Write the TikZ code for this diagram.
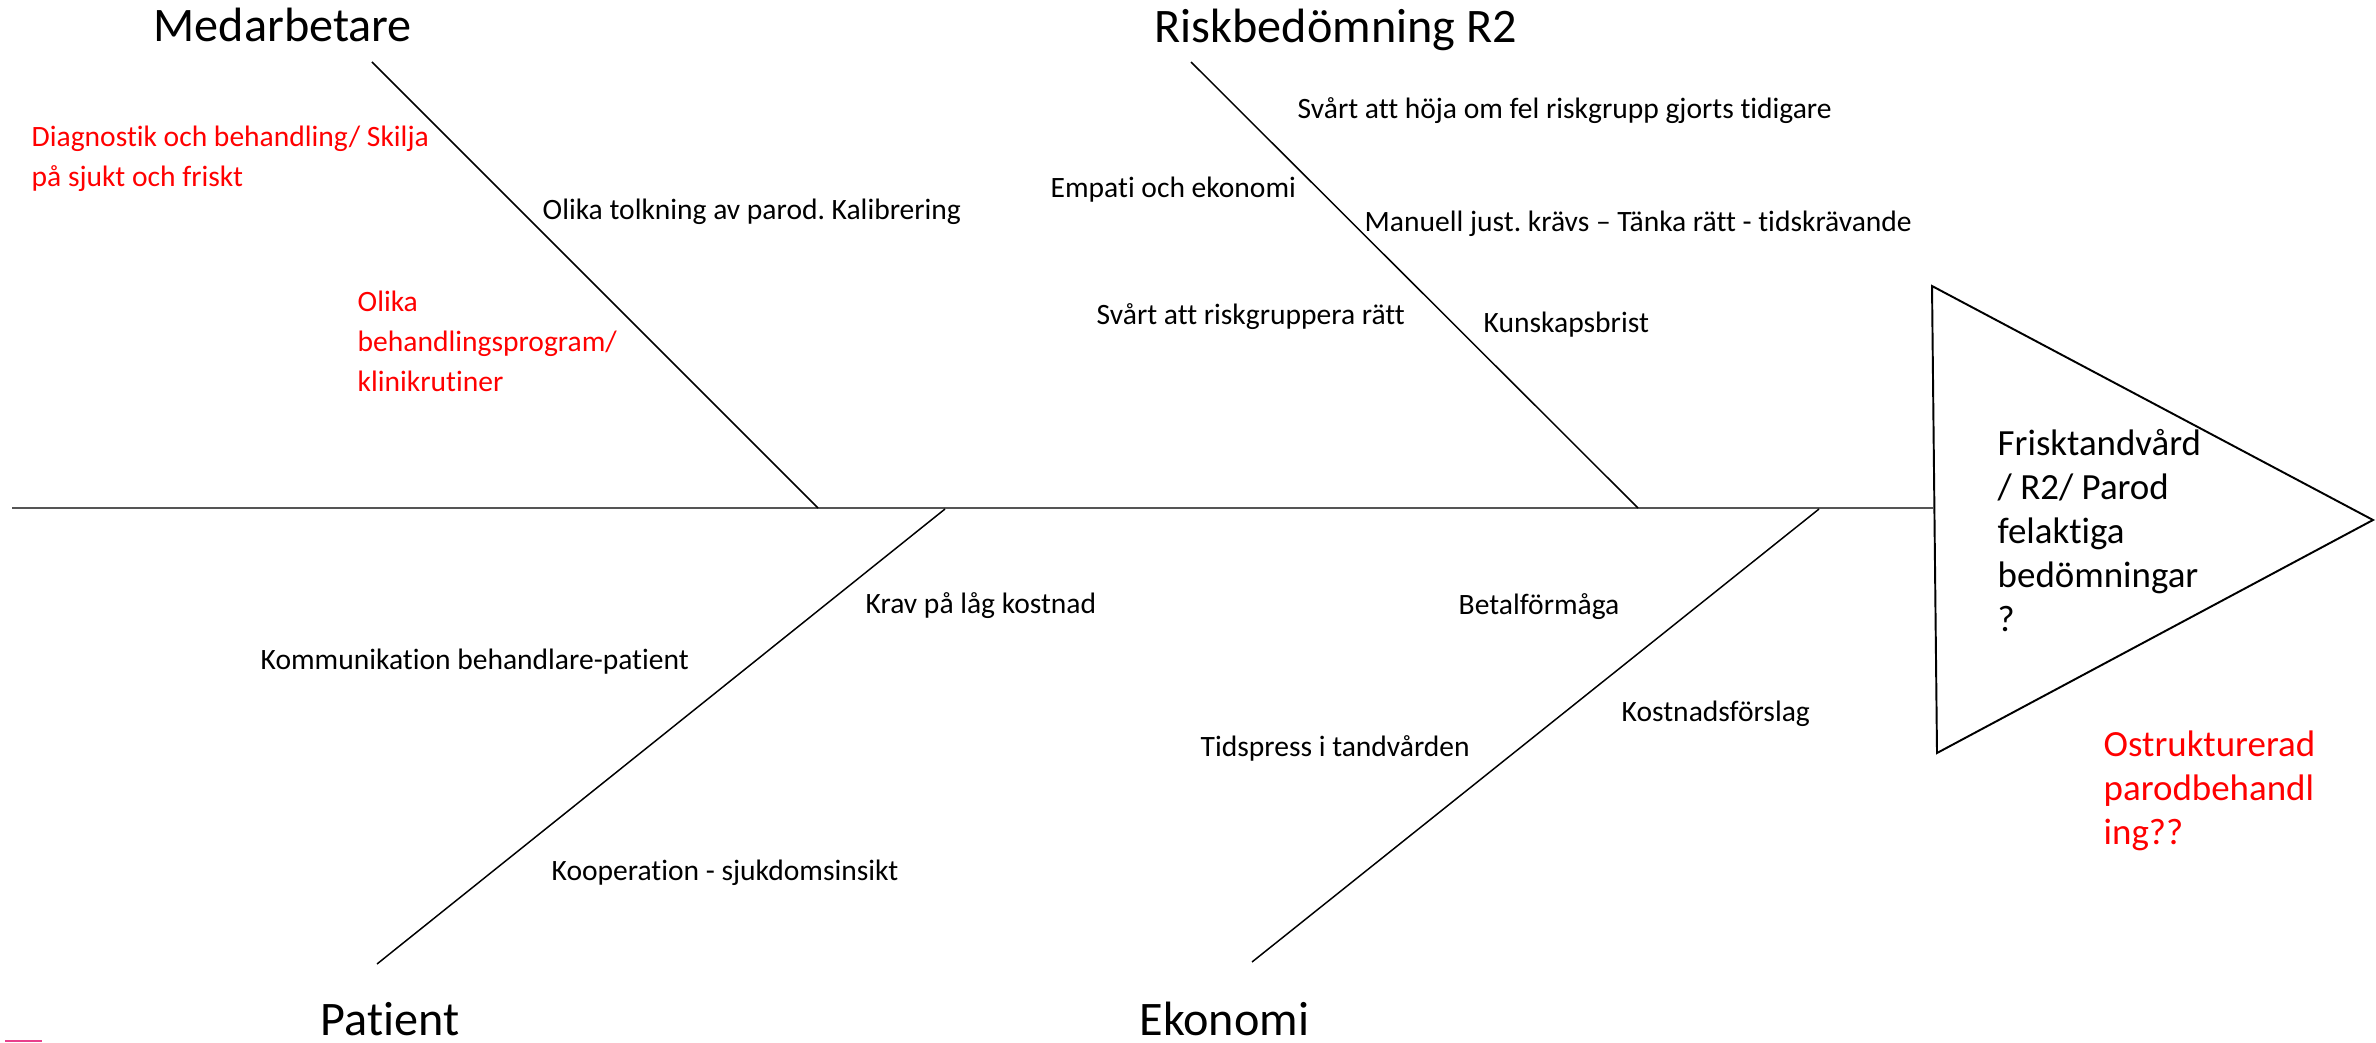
\documentclass[tikz,border=0pt]{standalone}
\usepackage{fontspec}
\setmainfont{Carlito}[Ligatures=NoCommon]
\frenchspacing
\usetikzlibrary{positioning}
\definecolor{spinegray}{HTML}{555555}
\definecolor{markpink}{HTML}{E8408C}
\tikzset{
	% Define line styles
	spine/.style={
		draw=spinegray,
		line width=0.65pt
	},
	bone/.style={
		draw=black,
		line width=0.42pt
	},
	head/.style={
		draw=black,
		line width=0.55pt,
		line join=miter
	},
	% Define text styles
	cause/.style={
		anchor=base west,
		inner sep=0,
		align=left,
		font=\fontsize{8.4pt}{11.4pt}\selectfont
	},
	redcause/.style={
		cause,
		text=red
	},
	category/.style={
		anchor=base west,
		inner sep=0,
		font=\fontsize{13.7pt}{16pt}\selectfont
	},
	effect/.style={
		anchor=base west,
		inner sep=0,
		align=left,
		font=\fontsize{10.5pt}{12.5pt}\selectfont
	}
}

\begin{document}
\begin{tikzpicture}[x=0.01cm, y=-0.01cm]
\useasboundingbox (0,0) rectangle (2376,1043);

% head and spine
\coordinate (headTL) at (1932,286);
\coordinate (headBL) at (1937,753);
\coordinate (headTip) at (2373,520);
\coordinate (headL) at (1933,508);
\coordinate (tail) at (12,508);

\draw[head] (headTL) -- (headTip) -- (headBL) -- cycle;
\draw[spine] (tail) -- (headL);

% bones
\coordinate (medTop) at (372,62);
\coordinate (medEnd) at (818,508);
\coordinate (riskTop) at (1191,62);
\coordinate (riskEnd) at (1638,508);
\coordinate (patBot) at (377,964);
\coordinate (patEnd) at (945,509);
\coordinate (ekoBot) at (1252,962);
\coordinate (ekoEnd) at (1819,509);

\draw[bone] (medTop) -- (medEnd);
\draw[bone] (riskTop) -- (riskEnd);
\draw[bone] (patBot) -- (patEnd);
\draw[bone] (ekoBot) -- (ekoEnd);

% categories
\node[category] at (153,42) (med) {Medarbetare};
\node[category] at (1154,43) (risk) {Riskbedömning R2};
\node[category] at (320,1035) (pat) {Patient};
\node[category] at (1139,1035) (eko) {Ekonomi};

% causes, Medarbetare (multi-line nodes sit on their last line)
\node[redcause] at (31,187) (diagn) {Diagnostik och behandling/ Skilja\\på sjukt och friskt};
\node[cause] at (542,220) (olikaTolk) {Olika tolkning av parod. Kalibrering};
\node[redcause] at (357,392) (olikaProg) {Olika\\behandlingsprogram/\\klinikrutiner};

% causes, Riskbedömning R2
\node[cause] at (1297,119) (svartHoja) {Svårt att höja om fel riskgrupp gjorts tidigare};
\node[cause] at (1050,198) (empati) {Empati och ekonomi};
\node[cause] at (1364,232) (manuell) {Manuell just. krävs – Tänka rätt - tidskrävande};
\node[cause] at (1096,325) (svartRisk) {Svårt att riskgruppera rätt};
\node[cause] at (1483,333) (kunskap) {Kunskapsbrist};

% causes, Patient
\node[cause] at (865,613) (krav) {Krav på låg kostnad};
\node[cause] at (260,669) (komm) {Kommunikation behandlare-patient};
\node[cause] at (551,880) (koop) {Kooperation - sjukdomsinsikt};

% causes, Ekonomi
\node[cause] at (1458,614) (betal) {Betalförmåga};
\node[cause] at (1621,721) (kostn) {Kostnadsförslag};
\node[cause] at (1200,756) (tids) {Tidspress i tandvården};

% effect
\node[effect] at (1997,631) (problem) {Frisktandvård\\/ R2/ Parod\\felaktiga\\bedömningar\\?};
\node[effect, text=red] at (2103,844) (ostrukt) {Ostrukturerad\\parodbehandl\\ing??};

% stray mark
\draw[markpink, line width=0.6pt] (5,1041) -- (42,1041);

\end{tikzpicture}
\end{document}
